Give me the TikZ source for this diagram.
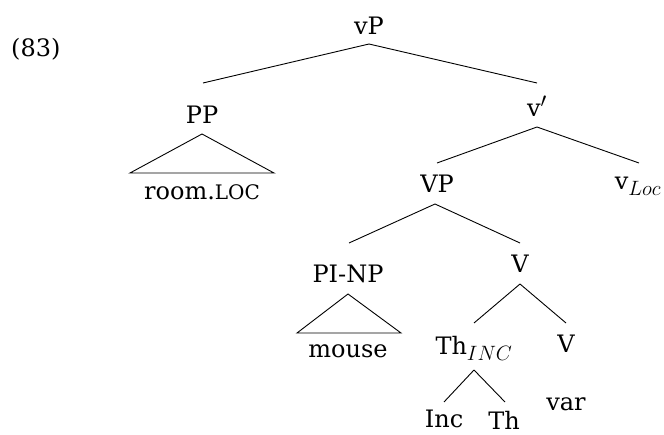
\documentclass[tikz,border=0pt]{standalone}
\usepackage{fontspec}
\setmainfont{DejaVu Serif}
\DeclareMathSizes{24}{24}{20}{15}
\usetikzlibrary{calc}
\begin{document}
\begin{tikzpicture}[x=1pt,y=-1pt,
  lbl/.style={anchor=base,inner sep=0pt,font=\fontsize{24}{28}\selectfont},
  br/.style={line width=0.9pt}]
\useasboundingbox (0,0) rectangle (664,435);
% nodes
\node[lbl,anchor=base west] (ex) at (11,57) {(83)};
\node[lbl] (vP) at (369,35) {vP};
\node[lbl] (PP) at (202,124) {PP};
\node[lbl] (vbar) at (537,117) {v$'$};
\node[lbl] (room) at (202,200) {room.{\fontsize{20}{20}\selectfont LOC}};
\node[lbl] (VP) at (437,193) {VP};
\node[lbl] (vLoc) at (638,190) {v$_{Loc}$};
\node[lbl] (PINP) at (348,283) {PI-NP};
\node[lbl] (V1) at (520,273) {V};
\node[lbl] (mouse) at (348,358) {mouse};
\node[lbl] (ThINC) at (474,355) {Th$_{INC}$};
\node[lbl] (V2) at (566,353) {V};
\node[lbl] (Inc) at (444,428) {Inc};
\node[lbl] (Th) at (504,429) {Th};
\node[lbl] (var) at (566,410) {var};
% branches
\draw[br] ($(vP.base)+(0,9)$) -- ($(PP.base)+(1,-41)$);
\draw[br] ($(vP.base)+(0,9)$) -- ($(vbar.base)+(0,-34)$);
\draw[br] ($(PP.base)+(0,10)$) -- ($(room.base)+(-72,-27)$) -- ($(room.base)+(72,-27)$) -- cycle;
\draw[br] ($(vbar.base)+(0,10)$) -- ($(VP.base)+(0,-30)$);
\draw[br] ($(vbar.base)+(0,10)$) -- ($(vLoc.base)+(1,-27)$);
\draw[br] ($(VP.base)+(-2,11)$) -- ($(PINP.base)+(1,-40)$);
\draw[br] ($(VP.base)+(-2,11)$) -- ($(V1.base)+(0,-30)$);
\draw[br] ($(PINP.base)+(0,11)$) -- ($(mouse.base)+(-51,-25)$) -- ($(mouse.base)+(53,-25)$) -- cycle;
\draw[br] ($(V1.base)+(0,11)$) -- ($(ThINC.base)+(0,-32)$);
\draw[br] ($(V1.base)+(0,11)$) -- ($(V2.base)+(0,-30)$);
\draw[br] ($(ThINC.base)+(0,15)$) -- ($(Inc.base)+(0,-26)$);
\draw[br] ($(ThINC.base)+(0,15)$) -- ($(Th.base)+(1,-27)$);
\end{tikzpicture}
\end{document}
